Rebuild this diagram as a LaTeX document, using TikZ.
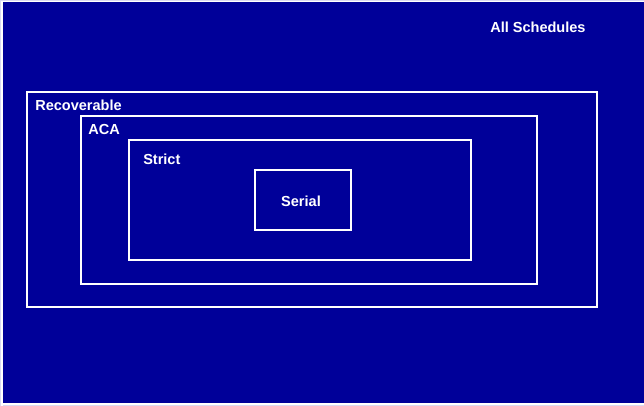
\documentclass[tikz,border=0pt]{standalone}
\usepackage{fontspec}
\setmainfont{Liberation Sans}
\definecolor{bgblue}{RGB}{0,0,153}
\begin{document}
\begin{tikzpicture}[x=0.75pt,y=-0.75pt,
  frame/.style={draw=white,line width=1.6pt},
  lbl/.style={text=white,font=\fontsize{10.9}{12}\selectfont\bfseries,inner sep=0pt,anchor=base west}]
\useasboundingbox (0,0) rectangle (644,406);
\fill[white!85!bgblue] (0,0) rectangle (644,406);
\fill[bgblue] (1.5,1.5) rectangle (644,404.5);
\draw[white,line width=1.2pt] (2,406) -- (2,1.5) -- (644,1.5);
\draw[white,line width=1.2pt] (2,404.2) -- (644,404.2);
\draw[frame] (27,92) rectangle (597,307);
\draw[frame] (81,116) rectangle (537,284);
\draw[frame] (129,140) rectangle (471,260);
\draw[frame] (255,170) rectangle (351,230);
\node[lbl] (all) at (490,32.5) {All Schedules};
\node[lbl] (rec) at (35,110.5) {Recoverable};
\node[lbl] (aca) at (88,134.5) {ACA};
\node[lbl] (str) at (143,164.5) {Strict};
\node[lbl,anchor=base] (ser) at (301,206.5) {Serial};
\end{tikzpicture}
\end{document}
